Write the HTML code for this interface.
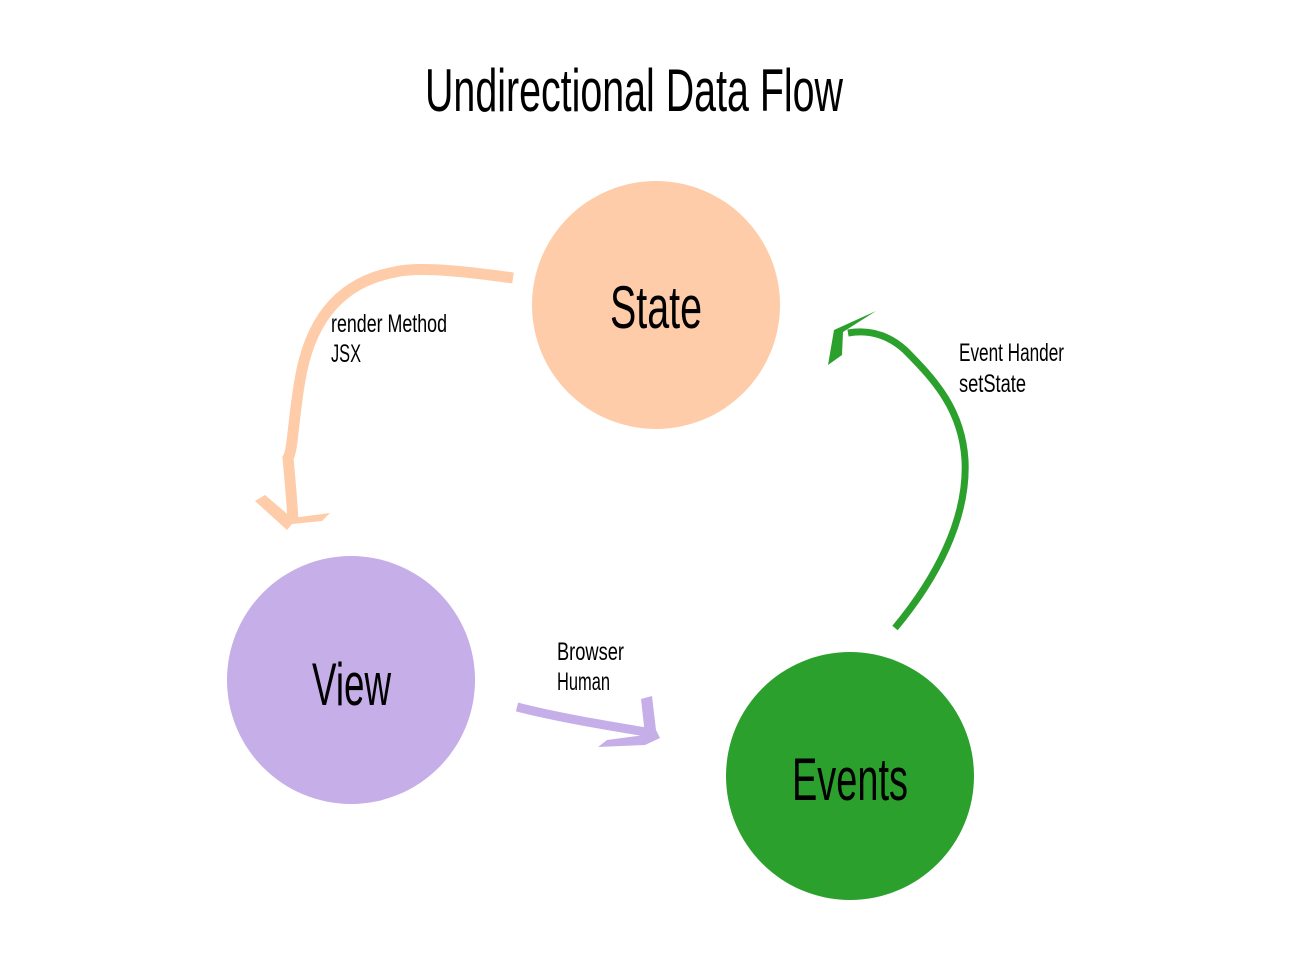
<!DOCTYPE html>
<html><head><meta charset="utf-8"><style>
html,body{margin:0;padding:0;background:#fff;}
svg{display:block;}
text{font-family:"Liberation Sans Narrow","Liberation Sans",sans-serif;fill:#000;}
</style></head><body>
<svg width="1291" height="968" viewBox="0 0 1291 968" xmlns="http://www.w3.org/2000/svg">
<rect width="1291" height="968" fill="#fff"/>
<text x="425" y="111" font-size="60" textLength="418" lengthAdjust="spacingAndGlyphs">Undirectional Data Flow</text>

<circle cx="656" cy="305" r="124" fill="#fecca8"/>
<circle cx="351" cy="680" r="124" fill="#c6aee8"/>
<circle cx="850" cy="776" r="124" fill="#2ca02c"/>

<text x="610" y="328" font-size="60" textLength="92" lengthAdjust="spacingAndGlyphs">State</text>
<text x="312" y="705" font-size="60" textLength="79" lengthAdjust="spacingAndGlyphs">View</text>
<text x="792" y="800" font-size="60" textLength="116" lengthAdjust="spacingAndGlyphs">Events</text>

<!-- orange arrow -->
<path d="M513,278 C470,272 420,266 395,272 C340,282 310,320 300,380 C293,420 293,450 288,458 C290,480 292,500 293,522" fill="none" stroke="#fecca8" stroke-width="11" stroke-linecap="butt"/>
<path d="M255,501 L265,495 L292,518 L330,513 L322,521 L292,524 L287,530 Z" fill="#fecca8"/>

<!-- green arrow -->
<path d="M895,628 C935,580 968,520 965,460 C962,410 935,380 905,350 C885,332 865,330 848,333" fill="none" stroke="#2ca02c" stroke-width="7"/>
<path d="M828,365 L834,330 L876,311 L843,332 L842,355 Z" fill="#2ca02c"/>

<!-- purple arrow -->
<path d="M517,707 C560,718 610,726 652,733" fill="none" stroke="#c6aee8" stroke-width="9"/>
<path d="M641,699 L652,696 L656,730 L660,738 L645,745 L598,747 L607,740 L645,735 Z" fill="#c6aee8"/>

<text x="331" y="332" font-size="25" textLength="116" lengthAdjust="spacingAndGlyphs">render Method</text>
<text x="331" y="362" font-size="25" textLength="30" lengthAdjust="spacingAndGlyphs">JSX</text>
<text x="959" y="361" font-size="25" textLength="105" lengthAdjust="spacingAndGlyphs">Event Hander</text>
<text x="959" y="392" font-size="25" textLength="67" lengthAdjust="spacingAndGlyphs">setState</text>
<text x="557" y="660" font-size="25" textLength="67" lengthAdjust="spacingAndGlyphs">Browser</text>
<text x="557" y="690" font-size="25" textLength="53" lengthAdjust="spacingAndGlyphs">Human</text>
</svg>
</body></html>
